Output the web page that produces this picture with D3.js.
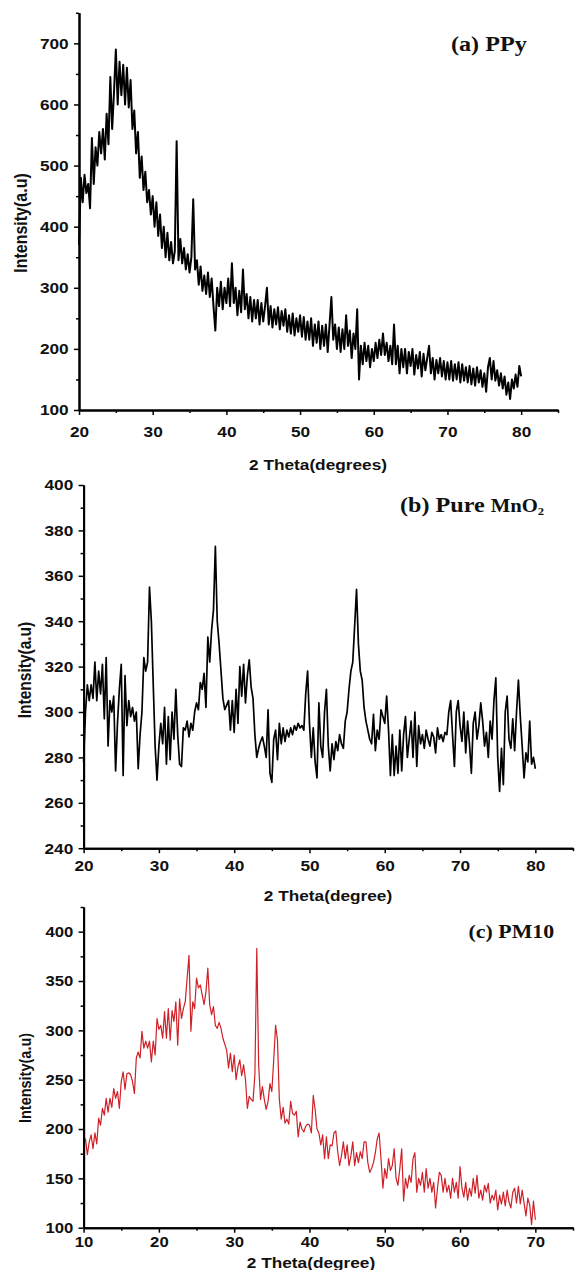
<!DOCTYPE html>
<html>
<head>
<meta charset="utf-8">
<script src="https://cdn.jsdelivr.net/npm/d3@7"></script>
<style>
	body { margin: 0; background: #fff; }
	svg text { font-family: "Liberation Sans", Arial, sans-serif; font-weight: bold; fill: #111; }
	.serif { font-family: "Liberation Serif", "Times New Roman", serif; }
</style>
</head>
<body>
<svg id="chart" width="575" height="1270"></svg>
<script>
// 2 theta sampling of the traces (degrees)
const stepDeg = 0.25;
const ppyStart = 20, mno2Start = 20, pm10Start = 10;

// (a) PPy, 20..80 deg
const ppyIntensity = [
	370, 480, 440, 485,  455, 470, 430, 545,  470, 530, 500, 555,  520, 560, 510, 585,
	535, 645, 560, 620,  690, 600, 670, 615,  665, 600, 660, 595,  640, 560, 590, 520,
	555, 480, 515, 460,  490, 440, 460, 420,  450, 400, 440, 385,  420, 365, 400, 350,
	390, 345, 375, 340,  360, 540, 345, 380,  340, 365, 330, 355,  325, 350, 445, 330,
	345, 305, 335, 295,  320, 290, 325, 285,  315, 270, 230, 300,  270, 310, 265, 300,
	275, 315, 270, 340,  275, 300, 255, 295,  260, 330, 265, 290,  250, 285, 245, 280,
	250, 280, 240, 275,  245, 270, 300, 240,  270, 235, 265, 240,  268, 232, 262, 238,
	265, 228, 255, 225,  258, 222, 250, 228,  255, 220, 252, 215,  245, 215, 250, 205,
	240, 210, 245, 200,  238, 205, 240, 195,  240, 285, 215, 240,  200, 235, 195, 232,
	200, 255, 205, 230,  185, 225, 200, 265,  150, 205, 175, 210,  180, 205, 170, 200,
	180, 210, 185, 215,  190, 225, 190, 210,  180, 205, 175, 240,  175, 205, 160, 200,
	170, 200, 160, 195,  172, 200, 158, 190,  168, 195, 155, 192,  165, 185, 205, 160,
	185, 150, 182, 160,  185, 155, 180, 150,  178, 150, 180, 148,  175, 150, 178, 145,
	175, 148, 170, 145,  172, 142, 168, 140,  170, 145, 165, 138,  160, 130, 170, 185,
	150, 180, 148, 165,  140, 160, 135, 155,  125, 145, 118, 150,  135, 158, 138, 172,
	155
];

// (b) Pure MnO2, 20..80 deg
const mno2Intensity = [
	278, 300, 312, 305,  312, 306, 322, 305,  318, 308, 321, 297,  324, 285, 305, 300,
	307, 274, 295, 310,  321, 272, 316, 294,  305, 298, 302, 296,  300, 275, 290, 300,
	324, 318, 322, 355,  340, 312, 285, 270,  285, 295, 286, 302,  277, 298, 279, 300,
	288, 310, 290, 277,  276, 293, 292, 296,  289, 295, 292, 300,  304, 301, 313, 310,
	317, 302, 333, 322,  336, 345, 373, 340,  330, 318, 306, 301,  303, 305, 292, 305,
	291, 310, 295, 320,  307, 321, 304, 316,  323, 311, 306, 290,  280, 284, 287, 289,
	285, 280, 301, 273,  269, 288, 292, 279,  295, 286, 293, 287,  292, 289, 293, 290,
	294, 292, 295, 293,  294, 292, 308, 318,  295, 280, 293, 278,  271, 304, 285, 280,
	300, 310, 285, 274,  286, 279, 287, 283,  290, 286, 284, 296,  300, 310, 318, 322,
	338, 354, 330, 318,  314, 302, 296, 292,  288, 286, 299, 283,  292, 288, 301, 298,
	295, 307, 292, 272,  290, 272, 285, 273,  292, 274, 290, 298,  280, 288, 296, 280,
	300, 276, 294, 286,  290, 284, 292, 288,  285, 291, 289, 282,  293, 288, 290, 287,
	291, 290, 300, 305,  290, 276, 300, 305,  294, 287, 300, 282,  296, 286, 273, 295,
	300, 288, 294, 304,  296, 285, 291, 280,  296, 288, 305, 315,  280, 265, 284, 268,
	300, 307, 288, 284,  297, 283, 300, 314,  298, 285, 271, 282,  278, 296, 277, 280,
	275
];

// (c) PM10, 10..70 deg
const pm10Intensity = [
	184, 190, 174, 187,  194, 180, 196, 185,  211, 204, 221, 214,  231, 217, 231, 222,
	241, 231, 238, 221,  248, 258, 240, 256,  257, 255, 248, 236,  272, 278, 272, 299,
	282, 289, 282, 289,  268, 289, 275, 312,  301, 305, 292, 319,  292, 322, 290, 320,
	309, 329, 285, 332,  312, 322, 329, 353,  376, 299, 329, 322,  353, 343, 346, 336,
	326, 339, 363, 326,  316, 324, 305, 302,  308, 302, 292, 286,  280, 262, 277, 258,
	275, 250, 263, 270,  254, 265, 250, 221,  233, 230, 228, 255,  383, 265, 230, 243,
	230, 220, 228, 246,  238, 270, 305, 290,  230, 210, 222, 206,  210, 205, 228, 216,
	214, 218, 192, 207,  200, 197, 203, 205,  204, 196, 234, 220,  200, 196, 184, 194,
	170, 192, 170, 184,  183, 196, 198, 177,  163, 173, 187, 170,  184, 163, 173, 187,
	163, 176, 166, 177,  170, 187, 187, 166,  156, 160, 166, 176,  190, 196, 170, 140,
	160, 150, 170, 158,  163, 180, 150, 143,  160, 180, 127, 150,  140, 153, 146, 170,
	176, 136, 150, 143,  156, 136, 160, 140,  150, 136, 146, 120,  140, 156, 153, 136,
	150, 136, 143, 130,  150, 136, 146, 130,  162, 140, 131, 146,  128, 140, 132, 150,
	135, 153, 130, 138,  128, 143, 136, 145,  125, 133, 128, 138,  118, 133, 124, 136,
	122, 138, 126, 120,  136, 140, 125, 142,  124, 138, 125, 112,  130, 123, 103, 127,
	108
];

const xTicksA = [20, 30, 40, 50, 60, 70, 80];
const xTicksC = [10, 20, 30, 40, 50, 60, 70];
const yTicksA = [100, 200, 300, 400, 500, 600, 700];
const yTicksB = [240, 260, 280, 300, 320, 340, 360, 380, 400];
const yTicksC = [100, 150, 200, 250, 300, 350, 400];

// text in the source figure is stretched sideways a little
const SX = 1.15;

const panels = [
	{
		values: ppyIntensity, start: ppyStart, color: '#000', lw: 2,
		xDomain: [20, 85], yDomain: [100, 750],
		left: 79, right: 558, top: 12.8, bottom: 410,
		xTicks: xTicksA, xMinor: [25, 35, 45, 55, 65, 75, 85], xPad: 11,
		yTicks: yTicksA, yMinor: [150, 250, 350, 450, 550, 650, 750],
		xTitle: '2 Theta(degrees)', xTitleX: 318, xTitleY: 470,
		yTitleX: 21, yTitleY: 223, yTitleSize: 16, fs: 15,
		label: [{t: '(a) PPy', s: 21}], labelX: 451, labelY: 51
	},
	{
		values: mno2Intensity, start: mno2Start, color: '#000', lw: 1.7,
		xDomain: [20, 85], yDomain: [240, 400],
		left: 83.6, right: 573, top: 485, bottom: 848.2,
		xTicks: xTicksA, xMinor: [25, 35, 45, 55, 65, 75, 85], xPad: 7,
		yTicks: yTicksB, yMinor: [250, 270, 290, 310, 330, 350, 370, 390],
		xTitle: '2 Theta(degree)', xTitleX: 328, xTitleY: 901,
		yTitleX: 25, yTitleY: 670, yTitleSize: 15.5, fs: 15,
		label: [{t: '(b) Pure ', s: 21}, {t: 'MnO', s: 18}, {t: '2', s: 11, dy: 3}], labelX: 400, labelY: 512
	},
	{
		values: pm10Intensity, start: pm10Start, color: '#cf2027', lw: 1.2,
		xDomain: [10, 75], yDomain: [100, 425],
		left: 83.6, right: 573, top: 907, bottom: 1227.7,
		xTicks: xTicksC, xMinor: [15, 25, 35, 45, 55, 65, 75], xPad: 4.5,
		yTicks: yTicksC, yMinor: [125, 175, 225, 275, 325, 375, 425],
		xTitle: '2 Theta(degree)', xTitleX: 311, xTitleY: 1268,
		yTitleX: 25, yTitleY: 1078, yTitleSize: 14.5, fs: 14.5,
		label: [{t: '(c) PM10', s: 19}], labelX: 468.6, labelY: 938
	}
];

const svg = d3.select('#chart');

function drawPanel(p) {
	const x = d3.scaleLinear().domain(p.xDomain).range([p.left, p.right]);
	const y = d3.scaleLinear().domain(p.yDomain).range([p.bottom, p.top]);
	const g = svg.append('g');

	const pts = p.values.map((v, i) => [p.start + i * stepDeg, v]);
	g.append('path')
		.datum(pts)
		.attr('d', d3.line().x(d => x(d[0])).y(d => y(d[1])))
		.attr('fill', 'none')
		.attr('stroke', p.color)
		.attr('stroke-width', p.lw)
		.attr('stroke-linejoin', 'round');

	// minor ticks first, then the labelled axis on top
	g.append('g')
		.attr('transform', `translate(0,${p.bottom})`)
		.call(d3.axisBottom(x).tickValues(p.xMinor).tickSize(3).tickSizeOuter(0).tickFormat(''));
	g.append('g')
		.attr('transform', `translate(${p.left},0)`)
		.call(d3.axisLeft(y).tickValues(p.yMinor).tickSize(3).tickSizeOuter(0).tickFormat(''));

	const xAxis = g.append('g')
		.attr('transform', `translate(0,${p.bottom})`)
		.call(d3.axisBottom(x).tickValues(p.xTicks).tickSize(5).tickSizeOuter(0).tickPadding(p.xPad));
	const yAxis = g.append('g')
		.attr('transform', `translate(${p.left},0)`)
		.call(d3.axisLeft(y).tickValues(p.yTicks).tickSize(5).tickSizeOuter(0).tickPadding(4));

	g.selectAll('.domain').attr('stroke', '#000').attr('stroke-width', 2);
	g.selectAll('.tick line').attr('stroke', '#000').attr('stroke-width', 1.5);
	[xAxis, yAxis].forEach(a => a.selectAll('text')
		.attr('fill', '#111')
		.style('font-size', p.fs + 'px')
		.attr('transform', `scale(${SX},1)`));

	g.append('text')
		.attr('transform', `translate(${p.xTitleX},${p.xTitleY}) scale(${SX},1)`)
		.attr('text-anchor', 'middle')
		.style('font-size', '15px')
		.text(p.xTitle);

	g.append('text')
		.attr('transform', `translate(${p.yTitleX},${p.yTitleY}) scale(${SX},1) rotate(-90)`)
		.attr('text-anchor', 'middle')
		.attr('dominant-baseline', 'central')
		.style('font-size', p.yTitleSize + 'px')
		.text('Intensity(a.u)');

	const lab = g.append('text')
		.attr('class', 'serif')
		.attr('transform', `translate(${p.labelX},${p.labelY}) scale(${SX},1)`)
		.attr('fill', '#111');
	let shift = 0;
	p.label.forEach(part => {
		lab.append('tspan')
			.style('font-size', part.s + 'px')
			.attr('dy', (part.dy || 0) - shift)
			.text(part.t);
		shift = part.dy || 0;
	});
}

panels.forEach(drawPanel);
</script>
</body>
</html>
